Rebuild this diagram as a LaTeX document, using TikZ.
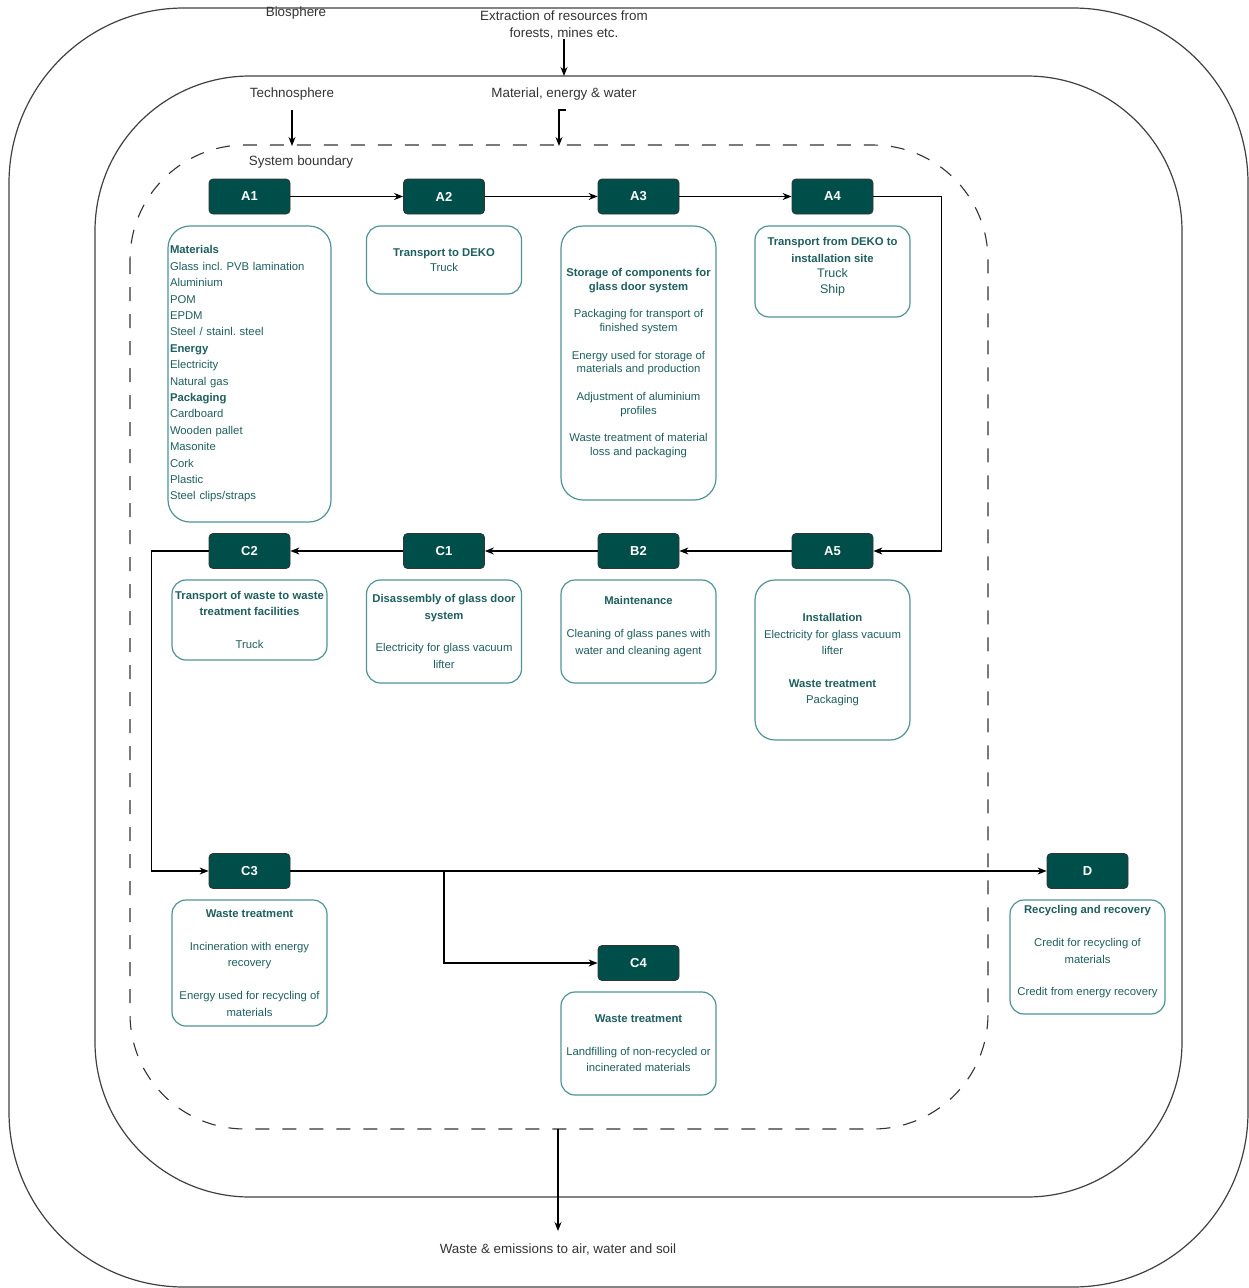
\documentclass[tikz,border=0pt]{standalone}
\usepackage{fontspec}
\setmainfont{Liberation Sans}
\usetikzlibrary{arrows.meta}

\definecolor{deep}{RGB}{0,78,73}
\definecolor{rim}{RGB}{78,148,148}
\definecolor{ink}{RGB}{30,94,94}
\definecolor{graytext}{RGB}{51,51,51}
\frenchspacing

\begin{document}
\begin{tikzpicture}[x=1pt, y=-1pt,
  flow/.style={-{Stealth[length=9pt,width=7pt]}, line width=1.1pt},
  sphere/.style={draw=black!75, line width=1.2pt},
  phase/.style={draw=black!80, fill=deep, text=white, rounded corners=4pt,
    minimum width=81pt, minimum height=35pt, inner sep=0pt, line width=0.8pt,
    font=\fontsize{13}{15}\selectfont\bfseries},
  info/.style={draw=rim, line width=1.2pt, rounded corners=14pt,
    minimum width=155pt, inner sep=0pt, align=center, text=ink,
    font=\fontsize{11.3}{16.4}\selectfont},
  tag/.style={text=graytext, font=\fontsize{13.4}{17}\selectfont,
    align=center, inner sep=0pt}]
  \useasboundingbox (0,0) rectangle (1249,1288);

  % Biosphere, Technosphere, System boundary
  \draw[sphere, rounded corners=175pt] (9,8) rectangle (1248,1287);
  \draw[sphere, rounded corners=155pt] (95,76) rectangle (1182,1197);
  \draw[black!80, line width=1.1pt, dash pattern=on 14pt off 13pt,
    rounded corners=115pt] (130,145) rectangle (988,1129);

  \node[tag] (bio) at (296,13) {Biosphere};
  \node[tag] (extract) at (564,25) {Extraction of resources from\\forests, mines etc.};
  \node[tag] (techno) at (292,94) {Technosphere};
  \node[tag] (material) at (564,94) {Material, energy \& water};
  \node[tag] (boundary) at (301,162) {System boundary};
  \node[tag] (waste) at (558,1249) {Waste \& emissions to air, water and soil};

  % Inflows and outflow
  \coordinate (ext-end) at (564,76);
  \coordinate (tech-start) at (292,110);
  \coordinate (tech-end) at (292,146);
  \coordinate (mat-start) at (566,110);
  \coordinate (waste-start) at (558,1129);
  \coordinate (waste-end) at (558,1231);
  \draw[flow] (extract.south) -- (ext-end);
  \draw[flow] (tech-start) -- (tech-end);
  \draw[flow] (mat-start) -- ++(-7,0) -- ++(0,36);
  \draw[flow] (waste-start) -- (waste-end);

  % Life cycle stages
  \foreach \n/\x/\y in {A1/249.5/196.5, A2/444/196.5, A3/638.5/196.5, A4/832.5/196.5,
                        C2/249.5/551, C1/444/551, B2/638.5/551, A5/832.5/551,
                        C3/249.5/871, C4/638.5/963, D/1087.5/871} {
    \node[phase] (\n) at (\x,\y) {\n};
  }

  % Stage contents
  \node[info, minimum width=163pt, minimum height=296pt, text width=159pt,
    inner sep=2pt, align=left, rounded corners=22pt] (t-A1) at (249.5,374)
    {\textbf{Materials}\\Glass incl. PVB lamination\\Aluminium\\POM\\EPDM\\
     Steel / stainl. steel\\\textbf{Energy}\\Electricity\\Natural gas\\
     \textbf{Packaging}\\Cardboard\\Wooden pallet\\Masonite\\Cork\\Plastic\\
     Steel clips/straps};
  \node[info, minimum height=68pt, font=\fontsize{11.3}{15}\selectfont] (t-A2) at (444,260)
    {\textbf{Transport to DEKO}\\Truck};
  \node[info, minimum height=274pt, rounded corners=22pt,
    font=\fontsize{11.3}{13.8}\selectfont] (t-A3) at (638.5,363)
    {\textbf{Storage of components for}\\\textbf{glass door system}\\[13.8pt]
     Packaging for transport of\\finished system\\[13.8pt]
     Energy used for storage of\\materials and production\\[13.8pt]
     Adjustment of aluminium\\profiles\\[13.8pt]
     Waste treatment of material\\loss and packaging};
  \node[info, minimum height=91pt] (t-A4) at (832.5,271.5)
    {\textbf{Transport from DEKO to}\\\textbf{installation site}\\[-1pt]
     {\fontsize{12.5}{15}\selectfont Truck}\\[-1pt]{\fontsize{12.5}{15}\selectfont Ship}\\[-4.4pt]\mbox{}};
  \node[info, minimum height=80pt] (t-C2) at (249.5,620)
    {\textbf{Transport of waste to waste}\\\textbf{treatment facilities}\\[16.4pt]Truck};
  \node[info, minimum height=103pt] (t-C1) at (444,631.5)
    {\textbf{Disassembly of glass door}\\\textbf{system}\\[16.4pt]
     Electricity for glass vacuum\\lifter};
  \node[info, minimum height=103pt] (t-B2) at (638.5,631.5)
    {\textbf{Maintenance}\\[16.4pt]Cleaning of glass panes with\\
     water and cleaning agent\\[-4pt]\mbox{}};
  \node[info, minimum height=160pt, rounded corners=20pt] (t-A5) at (832.5,660)
    {\textbf{Installation}\\Electricity for glass vacuum\\lifter\\[16.4pt]
     \textbf{Waste treatment}\\Packaging};
  \node[info, minimum height=126pt] (t-C3) at (249.5,963)
    {\textbf{Waste treatment}\\[16.4pt]Incineration with energy\\recovery\\[16.4pt]
     Energy used for recycling of\\materials};
  \node[info, minimum height=103pt] (t-C4) at (638.5,1043.5)
    {\textbf{Waste treatment}\\[16.4pt]Landfilling of non-recycled or\\
     incinerated materials};
  \node[info, minimum height=114pt] (t-D) at (1087.5,957)
    {\textbf{Recycling and recovery}\\[16.4pt]Credit for recycling of\\materials\\[16.4pt]
     Credit from energy recovery\\[-4pt]\mbox{}};

  % Flow between stages
  \foreach \s/\t in {A1/A2, A2/A3, A3/A4, A5/B2, B2/C1, C1/C2} {
    \draw[flow] (\s) -- (\t);
  }
  \draw[flow] (A4.east) -- ++(68,0) |- (A5.east);
  \draw[flow] (C2.west) -- ++(-57,0) |- (C3.west);
  \draw[flow] (C3.east) -- (D.west);
  \coordinate (split) at (444,871);
  \draw[flow] (split) |- (C4.west);
\end{tikzpicture}
\end{document}
